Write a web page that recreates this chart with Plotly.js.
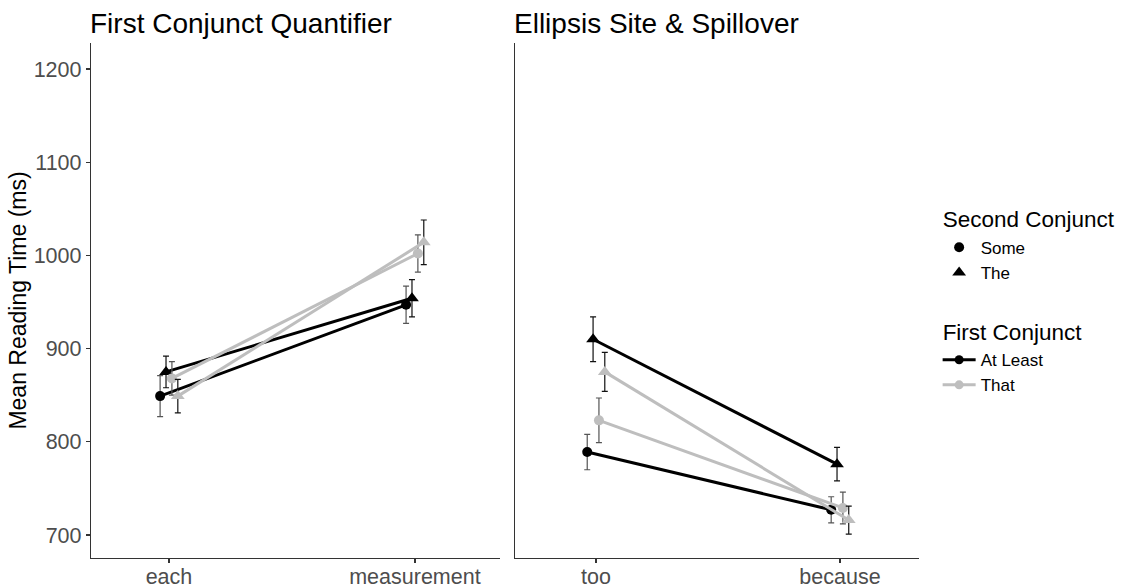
<!DOCTYPE html>
<html>
<head>
<meta charset="utf-8">
<script src="https://cdn.plot.ly/plotly-3.0.1.min.js"></script>
<style>html,body{margin:0;padding:0;background:#fff;}#chart{width:1122px;height:588px;}</style>
</head>
<body>
<div id="chart"></div>
<script>
// ---- data ----
const leftCategories = ["each", "measurement"];
const rightCategories = ["too", "because"];
const firstConjunct = ["At Least", "That"];
const secondConjunct = ["Some", "The"];

// Left panel: First Conjunct Quantifier
const leftAtLeastSome = [849, 947];
const leftAtLeastSomeErr = [22, 20];
const leftAtLeastThe = [875, 954];
const leftAtLeastTheErr = [17, 20];
const leftThatSome = [868, 1002];
const leftThatSomeErr = [18, 20];
const leftThatThe = [849, 1014];
const leftThatTheErr = [18, 24];

// Right panel: Ellipsis Site & Spillover
const rightAtLeastSome = [789, 727];
const rightAtLeastSomeErr = [19, 14];
const rightAtLeastThe = [910, 776];
const rightAtLeastTheErr = [24, 18];
const rightThatSome = [823, 729];
const rightThatSomeErr = [24, 17];
const rightThatThe = [875, 716];
const rightThatTheErr = [21, 15];

const yTicks = [700, 800, 900, 1000, 1100, 1200];

// ---- styling ----
const FONT = "Liberation Sans, Arial, sans-serif";
const colors = {"At Least": "#000000", "That": "#BEBEBE"};
const symbols = {"Some": "circle", "The": "triangle-up"};
const msize = {"Some": 10, "The": 12};
const errColor = {"Some": "#555555", "The": "#111111"};
const dodge = {"At Least|Some": -0.036, "At Least|The": -0.012, "That|Some": 0.012, "That|The": 0.036};

function series(fc, sc, vals, errs, xa, ya) {
  const key = fc + "|" + sc;
  return {
    type: "scatter", mode: "lines+markers",
    x: vals.map((v, i) => i + dodge[key]), y: vals,
    xaxis: xa, yaxis: ya, showlegend: false, hoverinfo: "skip",
    line: {color: colors[fc], width: 3},
    marker: {color: colors[fc], symbol: symbols[sc], size: msize[sc]},
    error_y: {type: "data", array: errs, visible: true, color: errColor[sc], thickness: 1.2, width: 3}
  };
}

const traces = [
  series("At Least", "Some", leftAtLeastSome, leftAtLeastSomeErr, "x", "y"),
  series("At Least", "The", leftAtLeastThe, leftAtLeastTheErr, "x", "y"),
  series("That", "Some", leftThatSome, leftThatSomeErr, "x", "y"),
  series("That", "The", leftThatThe, leftThatTheErr, "x", "y"),
  series("At Least", "Some", rightAtLeastSome, rightAtLeastSomeErr, "x2", "y2"),
  series("At Least", "The", rightAtLeastThe, rightAtLeastTheErr, "x2", "y2"),
  series("That", "Some", rightThatSome, rightThatSomeErr, "x2", "y2"),
  series("That", "The", rightThatThe, rightThatTheErr, "x2", "y2")
];

// legend entries
const groupTitleFont = {size: 22.5, color: "#000", family: FONT};
secondConjunct.forEach(sc => traces.push({
  type: "scatter", mode: "markers", x: [null], y: [null], name: sc,
  legendgroup: "second", legendgrouptitle: {text: "Second Conjunct", font: groupTitleFont},
  marker: {color: "#000", symbol: symbols[sc], size: msize[sc]}, showlegend: true
}));
firstConjunct.forEach(fc => traces.push({
  type: "scatter", mode: "lines+markers", x: [null], y: [null], name: fc,
  legendgroup: "first", legendgrouptitle: {text: "First Conjunct", font: groupTitleFont},
  line: {color: colors[fc], width: 3}, marker: {color: colors[fc], symbol: "circle", size: 9}, showlegend: true
}));

const yRange = [675.3, 1227.9];
const axisCommon = {
  showline: true, linecolor: "#333", linewidth: 1.2, showgrid: false, zeroline: false,
  ticks: "outside", ticklen: 4, tickcolor: "#333", tickwidth: 1.2,
  tickfont: {family: FONT, size: 21.5, color: "#4D4D4D"}
};

const layout = {
  width: 1122, height: 588,
  paper_bgcolor: "#fff", plot_bgcolor: "#fff",
  margin: {l: 91, r: 203, t: 43, b: 30, autoexpand: false},
  font: {family: FONT},
  xaxis: Object.assign({}, axisCommon, {domain: [0, 0.4940], range: [-0.317, 1.346],
    tickvals: [0, 1], ticktext: leftCategories, anchor: "y", ticklabelstandoff: -5}),
  xaxis2: Object.assign({}, axisCommon, {domain: [0.5121, 1], range: [-0.332, 1.324],
    tickvals: [0, 1], ticktext: rightCategories, anchor: "y2", ticklabelstandoff: -5}),
  yaxis: Object.assign({}, axisCommon, {range: yRange, tickvals: yTicks, anchor: "x",
    title: {text: "Mean Reading Time (ms)", font: {family: FONT, size: 23, color: "#000"}, standoff: 0}}),
  yaxis2: Object.assign({}, axisCommon, {range: yRange, tickvals: yTicks, anchor: "x2",
    showticklabels: false, ticks: ""}),
  legend: {x: 1.0225, xanchor: "left", y: 0.700, yanchor: "top", traceorder: "grouped",
    tracegroupgap: 30, itemwidth: 33, font: {family: FONT, size: 17, color: "#000"}, bgcolor: "rgba(0,0,0,0)"},
  annotations: [
    {text: "First Conjunct Quantifier", xref: "paper", yref: "paper", x: 0, y: 1, xanchor: "left", yanchor: "bottom",
      yshift: 2, xshift: -3, showarrow: false, font: {family: FONT, size: 28, color: "#000"}},
    {text: "Ellipsis Site & Spillover", xref: "paper", yref: "paper", x: 0.5121, y: 1, xanchor: "left", yanchor: "bottom",
      yshift: 2, xshift: -3, showarrow: false, font: {family: FONT, size: 28, color: "#000"}}
  ]
};

Plotly.newPlot("chart", traces, layout, {displayModeBar: false, staticPlot: true});
</script>
</body>
</html>
